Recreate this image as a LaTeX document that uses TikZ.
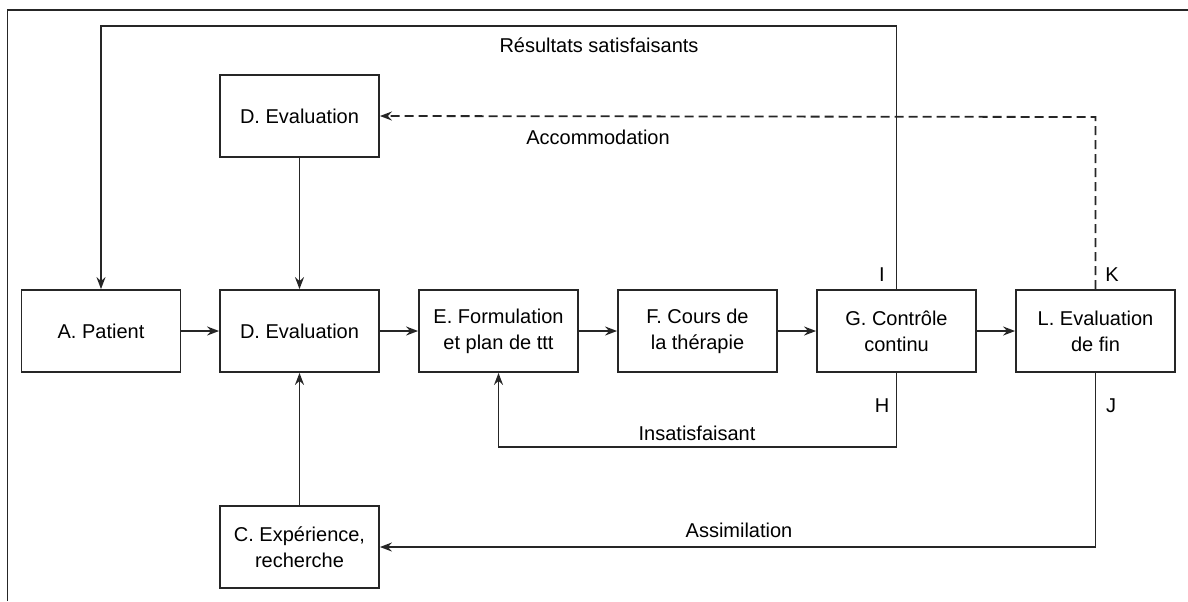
\documentclass[tikz,border=0pt]{standalone}
\usepackage{fontspec}
\setmainfont{Liberation Sans}
\usetikzlibrary{arrows.meta}
\begin{document}
\begin{tikzpicture}[x=0.5pt,y=-0.5pt,
  line width=0.9pt, draw=black!85,
  box/.style={draw, rectangle, minimum width=79.5pt, minimum height=41pt, inner sep=0pt,
    align=center, font=\fontsize{10pt}{13pt}\selectfont, text=black},
  lbl/.style={inner sep=0pt, font=\fontsize{10pt}{13pt}\selectfont, text=black},
  arr/.style={-{Stealth[length=6pt,width=4.5pt,inset=2pt]}},
  dash/.style={dashed}]
\useasboundingbox (0,0) rectangle (1188,601);
% frame
\draw (7.5,601) -- (7.5,10) -- (1188,10);
% boxes
\node[box] (A) at (101,331) {A. Patient};
\node[box] (D) at (299.5,331) {D. Evaluation};
\node[box] (E) at (498.5,331) {E. Formulation\\et plan de ttt};
\node[box] (F) at (697.5,331) {F. Cours de\\la thérapie};
\node[box] (G) at (896.5,331) {G. Contrôle\\continu};
\node[box] (L) at (1095.5,331) {L. Evaluation\\de fin};
\node[box] (Dt) at (299.5,116) {D. Evaluation};
\node[box] (C) at (299.5,547) {C. Expérience,\\recherche};
% main chain
\draw[arr] (A) -- (D);
\draw[arr] (D) -- (E);
\draw[arr] (E) -- (F);
\draw[arr] (F) -- (G);
\draw[arr] (G) -- (L);
\draw[arr] (Dt) -- (D);
\draw[arr] (C) -- (D);
% corner coordinates
\coordinate (rs1) at (896.5,26);
\coordinate (rs2) at (101,26);
\coordinate (ac1) at (1095.5,117);
\coordinate (in1) at (896.5,447);
\coordinate (in2) at (498.5,447);
\coordinate (as1) at (1095.5,547);
% loops
\draw[arr] (G.north) -- (rs1) -- (rs2) -- (A.north);
\draw[arr,dashed,dash pattern=on 4.5pt off 2.5pt] (L.north) -- (ac1) -- (Dt.east);
\draw[arr] (G.south) -- (in1) -- (in2) -- (E.south);
\draw[arr] (L.south) -- (as1) -- (C.east);
% labels
\node[lbl] (t1) at (599,45) {Résultats satisfaisants};
\node[lbl] (t2) at (598,137) {Accommodation};
\node[lbl] (t3) at (697,433) {Insatisfaisant};
\node[lbl] (t4) at (739,530) {Assimilation};
\node[lbl] (tI) at (882,275) {I};
\node[lbl] (tK) at (1112,275) {K};
\node[lbl] (tH) at (882,406) {H};
\node[lbl] (tJ) at (1111,406) {J};
\end{tikzpicture}
\end{document}
